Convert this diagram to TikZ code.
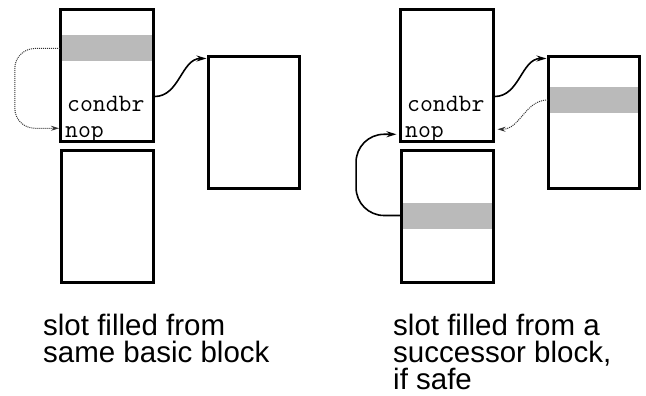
\documentclass[tikz,border=0pt]{standalone}
\usepackage{fontspec}
\newfontfamily\capfont{Liberation Sans}
\usetikzlibrary{arrows.meta,calc}

\begin{document}
\begin{tikzpicture}[x=1pt, y=-1pt,
  block/.style={draw, line width=3pt, minimum height=132pt, inner sep=0pt},
  band/.style={fill=black!27, minimum height=26pt, inner sep=0pt},
  instr/.style={anchor=base west, inner sep=0pt, font=\fontsize{25}{25}\selectfont\ttfamily\addfontfeature{FakeBold=0.8}},
  jump/.style={-{Stealth[length=10pt,width=6pt]}, line width=1.6pt},
  slotarrow/.style={-{Stealth[length=8pt,width=5pt]}, densely dotted, line width=1pt, black!80},
  caption/.style={anchor=north west, align=left, inner sep=0pt, font=\fontsize{29.5}{27}\selectfont\capfont}]

\useasboundingbox (0,0) rectangle (646,396);

% filled slots
\node[band, minimum width=93pt] (banda) at (106.5,48.5) {};
\node[band, minimum width=91pt] (bande) at (253.5+340,100) {};
\node[band, minimum width=92.5pt] (bandf) at (107.5+340,215.5) {};

% blocks
\foreach \dx/\side in {0/a,340/b} {
  \node[block, minimum width=93pt] (top\side) at (106.5+\dx,75.5) {};
  \node[block, minimum width=91pt, minimum height=131pt] (succ\side) at (253.5+\dx,122.5) {};
  \node[block, minimum width=92.5pt] (next\side) at (107.5+\dx,216) {};
  \node[instr] (cond\side) at (67+\dx,112) {condbr};
  \node[instr] (nop\side) at (65+\dx,137) {nop};
}

% branches
\draw[jump] (topa.east |- conda.north) to[out=0,in=180] ([yshift=-3pt]succa.north west);
\draw[jump] (topb.east |- condb.north) to[out=0,in=180] ([yshift=-3pt]succb.north west);

% delay slot moves
\draw[slotarrow, rounded corners=20pt] (banda.west) -- ++(-45,0) |- ($(nopa.west)+(-6,-6)$);
\draw[slotarrow] (bande.west) to[out=180,in=0] ($(topb.east |- nopb.west)+(3,-5)$);
\draw[jump, rounded corners=28pt] (bandf.west) -- ++(-45,0) |- ($(topb.west |- nopb.west)+(-2,0)$);

% captions
\node[caption] (capa) at (43,314) {slot filled from\\same basic block};
\node[caption] (capb) at (393,314) {slot filled from a\\successor block,\\if safe};

\end{tikzpicture}
\end{document}
